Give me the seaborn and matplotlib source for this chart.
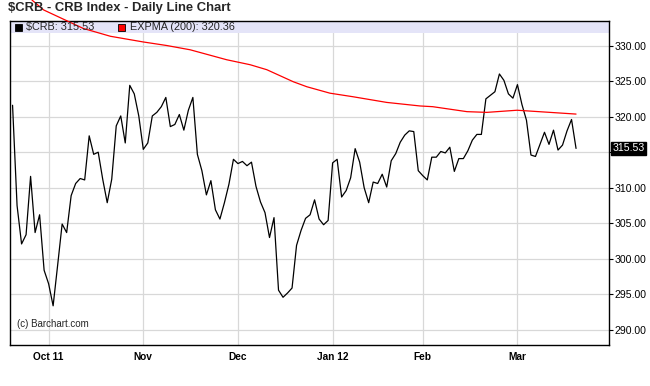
import numpy as np
import matplotlib.pyplot as plt
import seaborn as sns
import pandas as pd
from matplotlib.patches import Rectangle

# daily closes of $CRB, Sep 21 2011 .. Mar 2012 (one per trading day)
crb = [321.6, 307.5, 302.1, 303.4, 311.6, 303.7, 306.2, 298.4, 296.5, 293.4,
       299.1, 304.9, 303.7, 308.9, 310.6, 311.3, 311.1, 317.3, 314.7, 315.0,
       311.2, 307.9, 311.2, 318.7, 320.1, 316.3, 324.4, 323.2, 320.1, 315.4,
       316.3, 320.1, 320.6, 321.4, 322.7, 318.6, 318.9, 320.3, 318.1, 320.9,
       322.7, 314.7, 312.4, 309.0, 311.0, 306.9, 305.6, 307.9, 310.5, 314.0,
       313.4, 313.7, 313.1, 313.6, 310.2, 308.0, 306.5, 303.0, 305.8, 295.6,
       294.6, 295.2, 295.9, 301.9, 304.0, 305.7, 306.2, 308.3, 305.6, 304.8,
       305.4, 313.5, 314.0, 308.7, 309.6, 311.4, 315.5, 313.6, 310.0, 307.9,
       310.8, 310.6, 311.9, 310.1, 313.8, 314.8, 316.4, 317.4, 318.0, 317.9,
       312.4, 311.7, 311.1, 314.3, 314.3, 315.1, 314.9, 315.7, 312.3, 314.1,
       314.1, 315.2, 316.7, 317.5, 317.5, 322.5, 323.0, 323.5, 326.0, 325.1,
       323.2, 322.6, 324.5, 321.7, 319.5, 314.6, 314.4, 316.1, 317.8, 316.1,
       318.1, 315.3, 316.0, 318.0, 319.6, 315.53]

# EXPMA(200) read at a few points along the curve
ema_day = [4.3, 6.9, 15.7, 21.7, 29.0, 34.2, 39.4, 47.5, 52.7, 56.4, 62.3,
           65.3, 70.4, 75.5, 83.0, 90.4, 93.2, 100.8, 105.2, 111.9, 119.2, 125]
ema_val = [336.4, 335.0, 332.4, 331.3, 330.5, 330.0, 329.4, 328.0, 327.3, 326.6,
           324.9, 324.2, 323.3, 322.8, 322.0, 321.5, 321.4, 320.7, 320.6, 320.9,
           320.6, 320.36]

month_labels = ['Oct 11', 'Nov', 'Dec', 'Jan 12', 'Feb', 'Mar']
month_pos = [8, 29, 50, 71, 91, 112]
y_ticks = [290, 295, 300, 305, 310, 315, 320, 325, 330]
last_crb = 315.53
last_ema = 320.36

df = pd.DataFrame({'day': np.arange(len(crb)), 'close': crb})
ema = pd.DataFrame({'day': ema_day, 'ema': ema_val})

sns.set_style('white')
plt.rcParams['font.family'] = ['Liberation Sans', 'DejaVu Sans']

W, H = 650, 386
fig = plt.figure(figsize=(6.5, 3.86), dpi=100)
ax = fig.add_axes([10.3 / W, 1 - 345 / H, (608.5 - 10.3) / W, (345 - 20.7) / H])

y_top, y_bot = 333.49, 287.89
ax.set_xlim(-0.5, 132.2)
ax.set_ylim(y_bot, y_top)

# legend band at the top of the plot
ax.axhspan(331.8, y_top, color='#e4e4f8', zorder=1, lw=0)

sns.lineplot(data=df, x='day', y='close', color='black', lw=0.9, ax=ax, zorder=3)
sns.lineplot(data=ema, x='day', y='ema', color='red', lw=0.9, ax=ax, zorder=4)
ax.lines[-1].set_clip_on(False)

ax.set_axisbelow(True)
ax.grid(True, color='#d8d8d8', lw=0.9)
ax.set_xticks(month_pos)
ax.set_xticklabels(month_labels, fontweight='bold', fontsize=7.3)
ax.set_yticks(y_ticks)
# the 315 label sits under the last-value box
ax.set_yticklabels(['' if v == 315 else '%.2f' % v for v in y_ticks], fontsize=7.6)
ax.yaxis.tick_right()
ax.tick_params(axis='y', direction='out', length=3, width=0.8, pad=1.5, colors='black')
ax.tick_params(axis='x', direction='out', length=3, width=0.8, pad=2, colors='black')
ax.set_xlabel('')
ax.set_ylabel('')
for s in ax.spines.values():
    s.set_color('black')
    s.set_linewidth(1.0)

# last value marker on the right axis
ax.text(1.006, last_crb, '%.2f' % last_crb, transform=ax.get_yaxis_transform(),
        ha='left', va='center', fontsize=7.6, color='white', zorder=6,
        bbox=dict(boxstyle='square,pad=0.15', fc='black', ec='black'))

ax.text(0.012, 0.056, '(c) Barchart.com', transform=ax.transAxes, fontsize=7)

# title and legend entries
fig.text(8 / W, 1 - 8.5 / H, '$CRB - CRB Index - Daily Line Chart', fontsize=9.4,
         fontweight='bold', va='center', ha='left')
fig.add_artist(Rectangle((15 / W, 1 - 30.7 / H), 6.5 / W, 6.5 / H, transform=fig.transFigure,
                         fc='black', ec='black', lw=0.6))
fig.text(25.5 / W, 1 - 27.3 / H, '$CRB: %.2f' % last_crb, fontsize=7.8, va='center', ha='left')
fig.add_artist(Rectangle((118 / W, 1 - 30.7 / H), 6.5 / W, 6.5 / H, transform=fig.transFigure,
                         fc='red', ec='black', lw=0.6))
fig.text(129.5 / W, 1 - 27.3 / H, 'EXPMA (200): %.2f' % last_ema, fontsize=7.8, va='center', ha='left')

fig.savefig('out.png', dpi=100, facecolor='white')
